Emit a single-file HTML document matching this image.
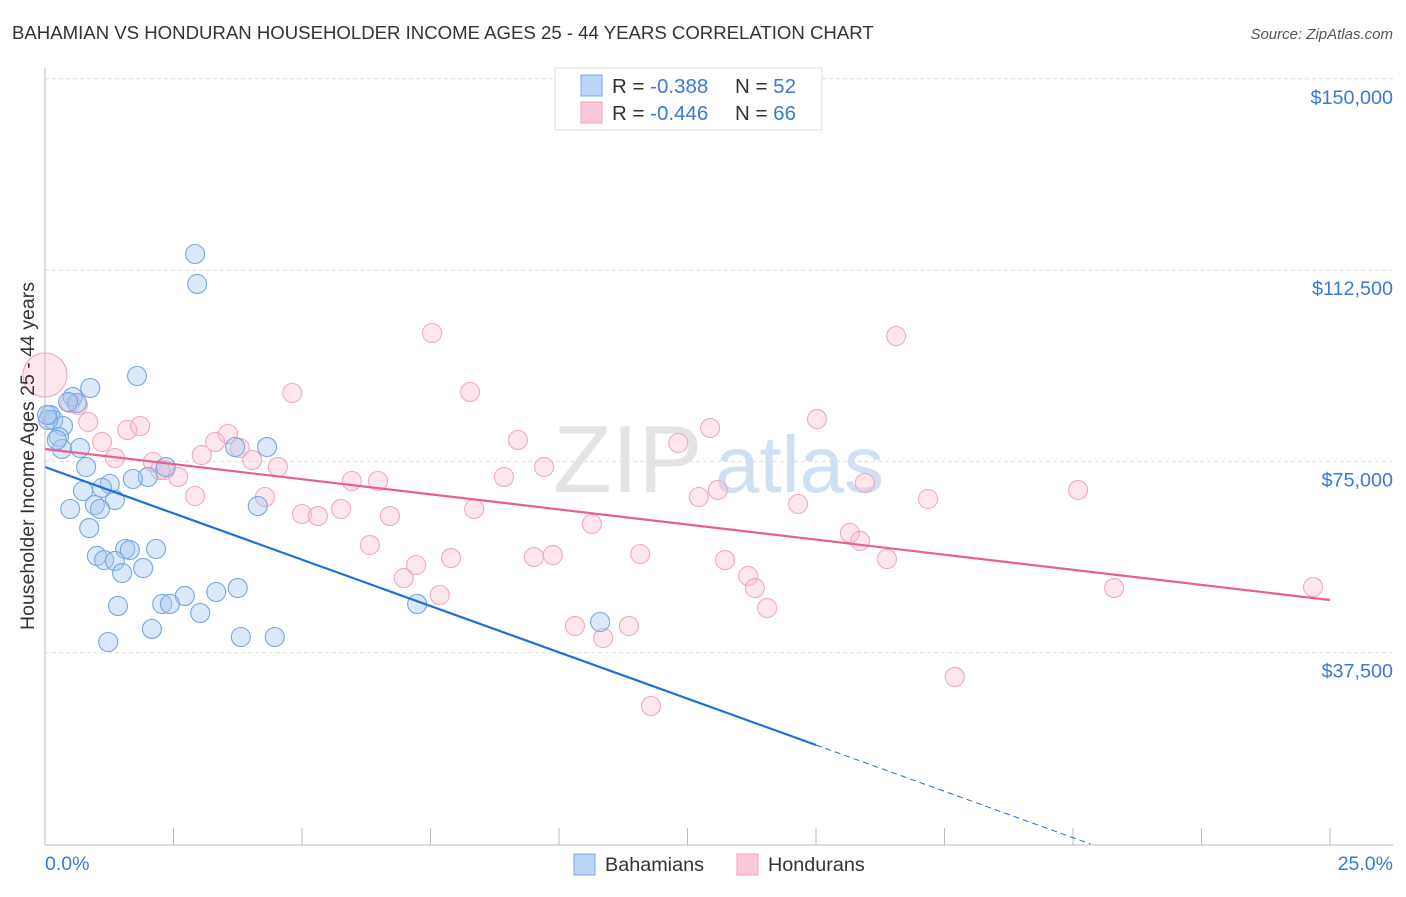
<!DOCTYPE html>
<html><head><meta charset="utf-8"><style>
body{margin:0;background:#fff;}
svg text{font-family:"Liberation Sans",sans-serif;}
</style></head><body>
<svg width="1406" height="892" viewBox="0 0 1406 892" id="chart">
<text x="12" y="39" font-size="18.6" fill="#333">BAHAMIAN VS HONDURAN HOUSEHOLDER INCOME AGES 25 - 44 YEARS CORRELATION CHART</text>
<text x="1393" y="39" font-size="15" fill="#555" font-style="italic" text-anchor="end">Source: ZipAtlas.com</text>
<g>
<text x="553" y="492" font-size="96" fill="#e4e4e4" font-family="Liberation Serif,serif">ZIP</text>
<text x="715" y="492" font-size="80" fill="#cfe0f3">atlas</text>
</g>
<g id="grid"></g>
<g id="marks"></g>
<line x1="45" y1="68" x2="45" y2="845" stroke="#bbb"/>
<line x1="45" y1="845" x2="1393" y2="845" stroke="#bbb"/>
<text x="34" y="456" font-size="19.5" fill="#333" text-anchor="middle" transform="rotate(-90 34 456)">Householder Income Ages 25 - 44 years</text>
<text x="45" y="870" font-size="19.5" fill="#3b78d8">0.0%</text>
<text x="1393" y="870" font-size="19.5" fill="#3b78d8" text-anchor="end">25.0%</text>
<g>
<rect x="555" y="68" width="267" height="62" fill="#fff" stroke="#ddd"/>
<rect x="581" y="75" width="21" height="21" fill="#bcd4f5" stroke="#7aa7e4"/>
<rect x="581" y="102" width="21" height="21" fill="#fbcad8" stroke="#f0a0b8"/>
<text x="612" y="93" font-size="20.5" fill="#333">R = <tspan fill="#3b78d8">-0.388</tspan></text>
<text x="735" y="93" font-size="20.5" fill="#333">N = <tspan fill="#3b78d8">52</tspan></text>
<text x="612" y="120" font-size="20.5" fill="#333">R = <tspan fill="#3b78d8">-0.446</tspan></text>
<text x="735" y="120" font-size="20.5" fill="#333">N = <tspan fill="#3b78d8">66</tspan></text>
</g>
<g>
<rect x="574" y="854" width="21" height="21" fill="#bcd4f5" stroke="#7aa7e4"/>
<text x="605" y="871" font-size="19.8" fill="#333">Bahamians</text>
<rect x="737" y="854" width="21" height="21" fill="#fbcad8" stroke="#f0a0b8"/>
<text x="768" y="871" font-size="19.8" fill="#333">Hondurans</text>
</g>
</svg>
<script>
const yTicks=[37500,75000,112500,150000];
const yTickLabels=["$37,500","$75,000","$112,500","$150,000"];
const xTicks=[0,2.5,5,7.5,10,12.5,15,17.5,20,22.5,25];
const bahX=[2.92,2.96,1.79,0.88,0.54,0.62,0.10,0.16,0.35,0.27,0.33,0.68,0.80,2.35,2.00,1.71,1.26,0.74,1.11,1.36,0.97,0.49,1.07,4.14,0.86,1.56,2.16,1.01,1.65,1.15,1.36,1.91,1.50,2.72,3.33,3.75,1.42,2.28,2.43,3.02,2.08,1.23,3.81,4.47,7.24,10.80,4.32,3.70,0.06,0.04,0.45,0.23];
const bahY=[115660,109780,91740,89390,87620,86450,84100,83120,81940,79780,77430,77630,73900,73900,71940,71550,70570,69200,69790,67430,66450,65670,65670,66260,61940,57830,57830,56460,57630,55670,55480,54100,53120,48620,49400,50180,46660,47050,47050,45280,42150,39600,40580,40580,47050,43520,77820,77820,83120,84100,86650,79200];
const honX=[0.49,0.64,0.84,1.11,1.60,1.85,1.36,2.10,2.33,2.59,2.92,3.05,3.31,3.56,3.79,4.03,4.53,4.28,4.81,5.00,5.31,5.76,5.97,6.32,6.48,6.71,6.98,7.22,7.68,7.90,7.53,8.27,8.35,8.93,9.20,9.51,9.71,9.88,10.31,10.64,10.86,11.36,11.58,11.79,12.32,12.72,12.94,13.09,13.23,13.68,13.81,14.05,14.65,15.02,15.66,15.86,15.95,16.38,16.56,17.18,17.70,20.10,20.80,24.67,2.24];
const honY=[86450,86060,82720,78810,81160,81940,75670,74880,73310,71940,68220,76250,78810,80370,77630,75270,73900,68020,88410,64690,64300,65670,71160,58610,71160,64300,52140,54690,48810,56060,100170,88610,65670,71940,79200,56260,73900,56650,42730,62730,40380,42730,56850,27050,78610,68020,81550,69390,55670,52540,50180,46260,66650,83310,60970,59400,70770,55870,99580,67630,32740,69390,50180,50380,73310];
const honBigX=[0.0];
const honBigY=[91940];
const bahTrendX=[0,15.0,20.34];
const bahTrendY=[73900,19410,0];
const honTrendX=[0,25];
const honTrendY=[77430,47830];

const NS="http://www.w3.org/2000/svg";
const sx=v=>45+v*51.4;
const sy=v=>844-v/196.03;
function mk(tag,attrs,parent){const e=document.createElementNS(NS,tag);for(const k in attrs)e.setAttribute(k,attrs[k]);parent.appendChild(e);return e;}
const grid=document.getElementById('grid'),marks=document.getElementById('marks');
yTicks.forEach((t,i)=>{
 const l=mk('line',{x1:45,x2:1393,y1:sy(t),y2:sy(t),stroke:'#ddd','stroke-dasharray':'4,3'},grid);
 
 
 const tx=mk('text',{x:1393,y:sy(t)+25,'font-size':19.8,fill:'#3b78d8','text-anchor':'end'},grid);
 tx.textContent=yTickLabels[i];
 
 
});
xTicks.forEach(t=>{
 const l=mk('line',{x1:sx(t),x2:sx(t),y1:828,y2:845,stroke:'#bbb'},grid);
 
 
});
function dot(x,y,r,fill,stroke,name){
 const c=mk('circle',{cx:sx(x),cy:sy(y),r:r,fill:fill,stroke:stroke,'stroke-width':1.1},marks);
 
 
}
honX.forEach((x,i)=>dot(x,honY[i],9.5,'rgba(248,185,204,0.35)','#f2a8bf','honduran-point'));
honBigX.forEach((x,i)=>dot(x,honBigY[i],22,'rgba(248,185,204,0.35)','#f2a8bf','honduran-point'));
bahX.forEach((x,i)=>dot(x,bahY[i],9.5,'rgba(165,198,240,0.4)','#78a6e2','bahamian-point'));
const bl=mk('line',{x1:sx(bahTrendX[0]),y1:sy(bahTrendY[0]),x2:sx(bahTrendX[1]),y2:sy(bahTrendY[1]),stroke:'#1f6fd8','stroke-width':2.2},marks);


const bd=mk('line',{x1:sx(bahTrendX[1]),y1:sy(bahTrendY[1]),x2:sx(bahTrendX[2]),y2:sy(bahTrendY[2]),stroke:'#1f6fd8','stroke-width':1,'stroke-dasharray':'6,4'},marks);


const hl=mk('line',{x1:sx(honTrendX[0]),y1:sy(honTrendY[0]),x2:sx(honTrendX[1]),y2:sy(honTrendY[1]),stroke:'#e8608e','stroke-width':2.2},marks);


</script>
</body></html>
